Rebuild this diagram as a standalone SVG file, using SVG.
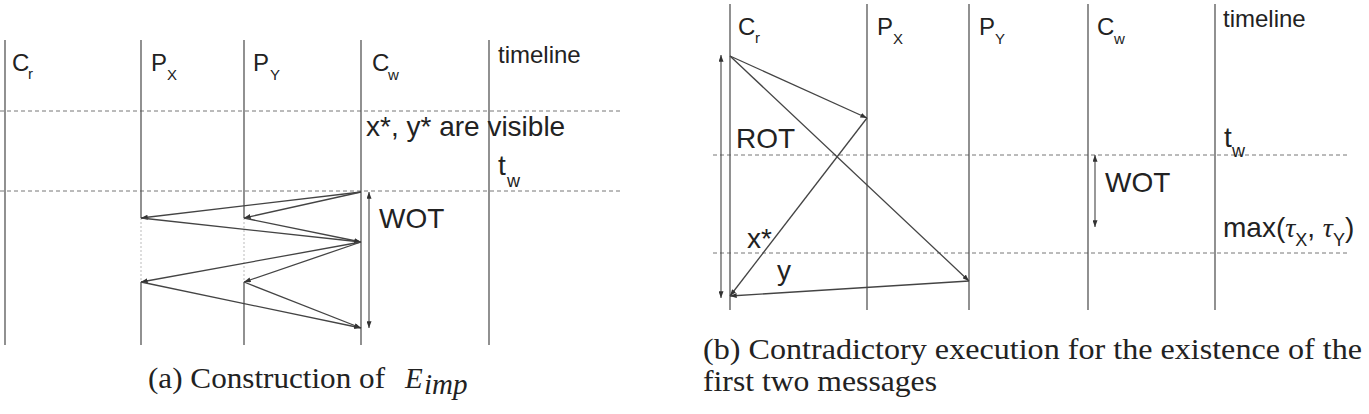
<svg xmlns="http://www.w3.org/2000/svg" width="1369" height="414" viewBox="0 0 1369 414">
<style>
.life{stroke:#555;stroke-width:1.3;fill:none}
.faint{stroke:#bbb;stroke-width:1;stroke-dasharray:2,2;fill:none}
.dash{stroke:#777;stroke-width:1;stroke-dasharray:4,3;fill:none}
.msga{stroke:#444;stroke-width:1.3;fill:none;marker-end:url(#ah)}
.dbl{stroke:#444;stroke-width:1.1;fill:none;marker-start:url(#ah2);marker-end:url(#ah)}
.lbl{font-family:"Liberation Sans",Arial,sans-serif;font-size:24px;fill:#222}
.big{font-family:"Liberation Sans",Arial,sans-serif;font-size:28px;fill:#222}
.sub{font-size:15px}
.bsub{font-size:18px}
.cap{font-family:"Liberation Serif","Times New Roman",serif;font-size:29px;fill:#222}
.ms{font-family:"Liberation Serif",serif;font-style:italic}
</style>
<defs>
<marker id="ah" viewBox="0 0 8 6" refX="8" refY="3" markerWidth="7" markerHeight="5" markerUnits="userSpaceOnUse" orient="auto"><path d="M0,0L8,3L0,6z" fill="#333"/></marker>
<marker id="ah2" viewBox="0 0 8 6" refX="0" refY="3" markerWidth="7" markerHeight="5" markerUnits="userSpaceOnUse" orient="auto"><path d="M8,0L0,3L8,6z" fill="#333"/></marker>
</defs>
<rect width="1369" height="414" fill="#fff"/>

<!-- Diagram (a) -->
<g id="a-grid">
<line class="dash" x1="0" y1="111" x2="622" y2="111"/>
<line class="dash" x1="0" y1="191" x2="622" y2="191"/>
</g>
<g id="a-Cr">
<line class="life" x1="5" y1="40" x2="5" y2="345"/>
<text class="lbl" x="12" y="71">C<tspan class="sub" x="28" y="79">r</tspan></text>
</g>
<g id="a-PX">
<line class="life" x1="141" y1="40" x2="141" y2="218"/>
<line class="faint" x1="141" y1="218" x2="141" y2="282"/>
<line class="life" x1="141" y1="282" x2="141" y2="345"/>
<text class="lbl" x="151" y="71">P<tspan class="sub" x="167" y="80">X</tspan></text>
</g>
<g id="a-PY">
<line class="life" x1="244" y1="40" x2="244" y2="218"/>
<line class="faint" x1="244" y1="218" x2="244" y2="282"/>
<line class="life" x1="244" y1="282" x2="244" y2="345"/>
<text class="lbl" x="253" y="71">P<tspan class="sub" x="270" y="80">Y</tspan></text>
</g>
<g id="a-Cw">
<line class="life" x1="361" y1="40" x2="361" y2="345"/>
<text class="lbl" x="372" y="71">C<tspan class="sub" x="388" y="80">w</tspan></text>
</g>
<g id="a-timeline">
<line class="life" x1="489" y1="40" x2="489" y2="345"/>
<text class="lbl" x="498" y="63">timeline</text>
<text class="big" x="498" y="175">t<tspan class="bsub" x="507" y="187">w</tspan></text>
</g>
<text class="big" x="366" y="136">x*, y* are visible</text>
<text class="big" x="379" y="228">WOT</text>
<g id="a-connectors">
<line class="msga" x1="361" y1="192" x2="141" y2="218"/>
<line class="msga" x1="361" y1="192" x2="244" y2="218"/>
<line class="msga" x1="141" y1="218" x2="361" y2="242"/>
<line class="msga" x1="244" y1="218" x2="361" y2="242"/>
<line class="msga" x1="361" y1="242" x2="141" y2="282"/>
<line class="msga" x1="361" y1="242" x2="244" y2="282"/>
<line class="msga" x1="141" y1="282" x2="361" y2="328"/>
<line class="msga" x1="244" y1="282" x2="361" y2="328"/>
<line class="dbl" x1="369" y1="192" x2="369" y2="328"/>
</g>
<g id="a-caption">
<text class="cap" x="148" y="388" textLength="237" lengthAdjust="spacingAndGlyphs">(a) Construction of</text>
<text class="cap ms" x="405" y="388">E</text>
<text class="cap ms" x="424" y="394" font-size="20">imp</text>
</g>

<!-- Diagram (b) -->
<g id="b-grid">
<line class="dash" x1="713" y1="155" x2="1347" y2="155"/>
<line class="dash" x1="713" y1="253" x2="1347" y2="253"/>
</g>
<g id="b-Cr">
<line class="life" x1="730" y1="4" x2="730" y2="310"/>
<text class="lbl" x="738" y="35">C<tspan class="sub" x="755" y="43">r</tspan></text>
</g>
<g id="b-PX">
<line class="life" x1="867" y1="4" x2="867" y2="310"/>
<text class="lbl" x="877" y="35">P<tspan class="sub" x="893" y="44">X</tspan></text>
</g>
<g id="b-PY">
<line class="life" x1="969" y1="4" x2="969" y2="310"/>
<text class="lbl" x="979" y="35">P<tspan class="sub" x="995" y="44">Y</tspan></text>
</g>
<g id="b-Cw">
<line class="life" x1="1088" y1="4" x2="1088" y2="310"/>
<text class="lbl" x="1097" y="35">C<tspan class="sub" x="1114" y="44">w</tspan></text>
</g>
<g id="b-timeline">
<line class="life" x1="1215" y1="4" x2="1215" y2="310"/>
<text class="lbl" x="1223" y="27">timeline</text>
<text class="big" x="1224" y="147">t<tspan class="bsub" x="1232" y="157">w</tspan></text>
<text class="big" x="1223" y="237">max(<tspan class="ms">τ</tspan><tspan class="bsub" dy="9">X</tspan><tspan dy="-9">, </tspan><tspan class="ms">τ</tspan><tspan class="bsub" dy="9">Y</tspan><tspan dy="-9">)</tspan></text>
</g>
<text class="big" x="736" y="148">ROT</text>
<text class="big" x="747" y="248">x*</text>
<text class="big" x="777" y="280">y</text>
<text class="big" x="1105" y="192">WOT</text>
<g id="b-connectors">
<line class="msga" x1="730" y1="56" x2="867" y2="118"/>
<line class="msga" x1="730" y1="56" x2="969" y2="281"/>
<line class="msga" x1="867" y1="118" x2="730" y2="296"/>
<line class="msga" x1="969" y1="281" x2="730" y2="296"/>
<line class="dbl" x1="721" y1="55" x2="721" y2="298"/>
<line class="dbl" x1="1095" y1="155" x2="1095" y2="227"/>
</g>
<g id="b-caption">
<text class="cap" x="703" y="359" textLength="659" lengthAdjust="spacingAndGlyphs">(b) Contradictory execution for the existence of the</text>
<text class="cap" x="703" y="391" textLength="234" lengthAdjust="spacingAndGlyphs">first two messages</text>
</g>
</svg>
